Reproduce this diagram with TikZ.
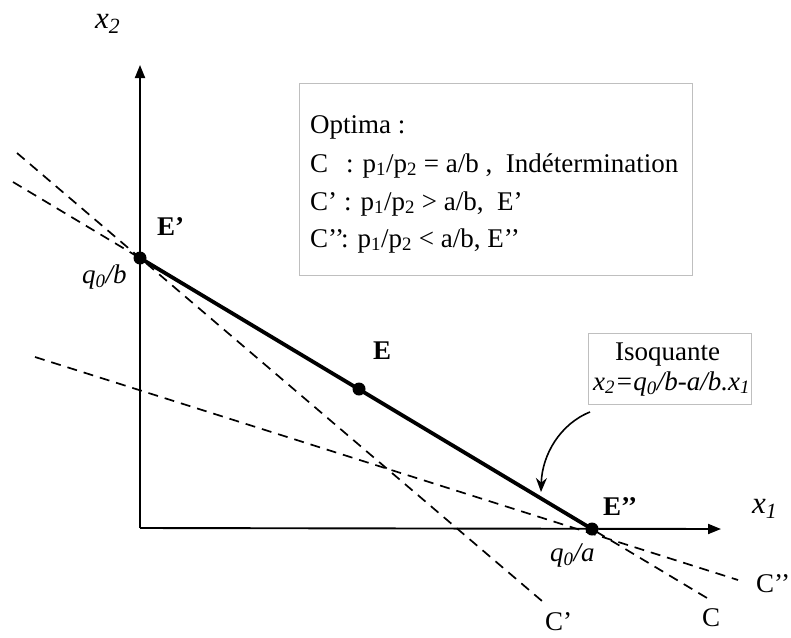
\documentclass[tikz,border=0pt]{standalone}
\usepackage{fontspec}
\setmainfont{Liberation Serif}
\usetikzlibrary{arrows.meta}
\begin{document}
\begin{tikzpicture}[x=1pt,y=-1pt,
  lbl/.style={anchor=base west,inner sep=0pt,font=\fontsize{27}{32}\selectfont},
  biglbl/.style={anchor=base west,inner sep=0pt,font=\fontsize{31}{35}\selectfont\itshape},
  axisline/.style={line width=1.9pt,-{Triangle[length=13pt,width=10pt]}},
  dashline/.style={line width=1.7pt,dash pattern=on 10pt off 7pt},
  isoline/.style={line width=3.8pt},
  dotnode/.style={circle,fill=black,inner sep=0pt,minimum size=13pt},
  gbox/.style={draw=black!25,line width=0.9pt}]
\useasboundingbox (0,0) rectangle (791,637);
% key points
\coordinate (O) at (140,528);
\coordinate (Ytip) at (140,65);
\coordinate (Xtip) at (721,529);
% dashed budget lines
\coordinate (cA) at (13,182);
\coordinate (cB) at (712,601);
\coordinate (cpA) at (17,153);
\coordinate (cpB) at (542,601);
\coordinate (cppA) at (35,357);
\coordinate (cppB) at (738,580);
\draw[dashline] (cA) -- (cB);
\draw[dashline] (cpA) -- (cpB);
\draw[dashline] (cppA) -- (cppB);
% axes
\draw[axisline] (O) -- (Ytip);
\draw[axisline] (O) -- (Xtip);
% isoquant
\node[dotnode] (Ep) at (140,258) {};
\node[dotnode] (E) at (359,389) {};
\node[dotnode] (Epp) at (592,529) {};
\draw[isoline] (Ep.center) -- (Epp.center);
% labels
\node[biglbl] (x2) at (95,28) {x\textsubscript{2}};
\node[biglbl] (x1) at (752,513) {x\textsubscript{1}};
\node[lbl,font=\fontsize{27}{32}\selectfont\bfseries] (lEp) at (157,235) {E’};
\node[lbl,font=\fontsize{27}{32}\selectfont\bfseries] (lE) at (373,359) {E};
\node[lbl,font=\fontsize{27}{32}\selectfont\bfseries] (lEpp) at (603,515) {E’’};
\node[lbl,font=\fontsize{27}{32}\selectfont\itshape] (qb) at (82,283) {q\textsubscript{0}/b};
\node[lbl,font=\fontsize{27}{32}\selectfont\itshape] (qa) at (550,561) {q\textsubscript{0}/a};
\node[lbl] (lC) at (702,626) {C};
\node[lbl] (lCp) at (545,630) {C’};
\node[lbl] (lCpp) at (756,592) {C’’};
% optima box
\draw[gbox] (299,83) rectangle (692,275);
\node[lbl] (o1) at (310,133) {Optima :};
\node[lbl] (o2) at (310,172) {\makebox[36pt][l]{C}: p\textsubscript{1}/p\textsubscript{2} = a/b ,\ \ Indétermination};
\node[lbl] (o3) at (310,210) {\makebox[34pt][l]{C’}: p\textsubscript{1}/p\textsubscript{2} > a/b,\ \ E’};
\node[lbl] (o4) at (310,247) {\makebox[31pt][l]{C’’}: p\textsubscript{1}/p\textsubscript{2} < a/b, E’’};
% isoquant box
\draw[gbox] (588,333) rectangle (751,404);
\node[lbl] (i1) at (615,360) {Isoquante};
\node[lbl,font=\fontsize{27}{32}\selectfont\itshape] (i2) at (593,390) {x\textsubscript{2}=q\textsubscript{0}/b-a/b.x\textsubscript{1}};
% curved arrow
\coordinate (arrS) at (590,412);
\coordinate (arrT) at (541,492);
\draw[line width=1.6pt,-{Stealth[length=14pt,width=11pt]}] (arrS) .. controls (560,424) and (542,455) .. (arrT);
\end{tikzpicture}
\end{document}
